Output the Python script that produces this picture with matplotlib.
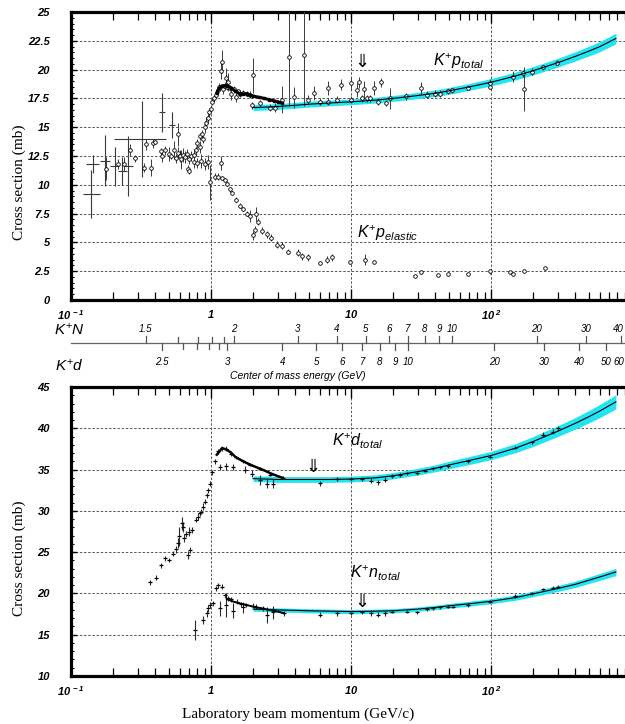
import numpy as np
import matplotlib
matplotlib.use('Agg')
import matplotlib.pyplot as plt

plt.rcParams['mathtext.fontset'] = 'custom'
plt.rcParams['mathtext.it'] = 'Liberation Sans:italic'
plt.rcParams['mathtext.rm'] = 'Liberation Sans'
plt.rcParams['mathtext.sf'] = 'Liberation Sans'
plt.rcParams['mathtext.bf'] = 'Liberation Sans:italic:bold'

# ---------------- DATA ----------------
# K+p total, low-energy set with momentum bins
kpA_p = [0.140, 0.144, 0.175, 0.206, 0.233, 0.256, 0.320, 0.447, 0.527]
kpA_s = [9.2, 11.8, 12.1, 11.6, 11.2, 11.6, 14.0, 16.3, 15.2]
kpA_ds = [2.1, 0.8, 2.2, 1.7, 1.2, 2.6, 3.3, 1.7, 1.1]
kpA_plo = [0.121, 0.129, 0.160, 0.190, 0.216, 0.240, 0.203, 0.425, 0.500]
kpA_phi = [0.161, 0.159, 0.190, 0.222, 0.250, 0.275, 0.477, 0.470, 0.555]

# K+p total, other measurements
kpB_p = [0.178, 0.215, 0.240, 0.265, 0.285, 0.330, 0.345, 0.370, 0.385, 0.398, 0.440,
         0.450, 0.470, 0.500, 0.520, 0.540, 0.560, 0.580, 0.580, 0.600, 0.610, 0.630,
         0.650, 0.670, 0.690, 0.700, 0.720, 0.750, 0.780, 0.800, 0.830, 0.840, 0.860,
         0.880, 0.900, 0.920, 0.950, 0.970, 1.000, 1.020, 1.050, 1.080, 1.120, 1.150,
         1.180, 1.200, 1.220, 1.250, 1.280, 1.300, 1.330, 1.360, 1.400, 1.450, 1.500,
         1.550, 1.620, 1.700, 1.800, 1.900, 1.980, 1.950, 2.240, 2.630, 2.850, 3.2,
         3.60, 3.90, 4.60, 4.90, 5.40, 6.00, 6.80, 6.80, 7.95, 8.50, 10.0, 10.0,
         11.0, 11.4, 12.0, 12.3, 13.1, 13.6, 14.7, 15.5, 16.5, 17.7, 18.9, 24.6,
         31.6, 34.9, 39.8, 43.3, 49.0, 52.4, 68.0, 98.0, 98.0, 143, 168, 171, 196,
         236, 297]
kpB_s = [11.4, 11.8, 11.8, 13.0, 12.3, 11.5, 13.5, 11.5, 13.6, 13.7, 12.9,
         12.5, 13.0, 12.7, 12.5, 13.0, 12.3, 14.4, 12.8, 12.5, 12.2, 12.6,
         12.4, 12.7, 11.4, 11.2, 12.5, 12.6, 13.0, 13.6, 13.3, 14.2, 14.4,
         14.0, 15.0, 15.4, 15.8, 16.3, 16.6, 17.2, 17.5, 17.8, 18.2, 18.5,
         19.9, 20.7, 18.3, 18.6, 19.3, 18.5, 18.9, 18.4, 17.9, 18.3, 17.6,
         18.1, 17.9, 18.0, 17.9, 17.8, 19.5, 16.9, 17.1, 16.7, 16.7, 17.4,
         21.1, 17.6, 21.3, 17.4, 18.0, 17.2, 18.4, 17.2, 17.4, 18.7, 18.8, 17.4,
         18.2, 18.9, 17.5, 18.3, 17.5, 17.5, 18.4, 17.2, 18.9, 17.1, 17.5, 17.7,
         18.4, 17.8, 17.9, 17.9, 18.1, 18.2, 18.4, 18.8, 18.5, 19.4, 19.7, 18.3, 19.8,
         20.2, 20.6]
kpB_ds = [1.0, 0.4, 0.6, 0.5, 0.3, 0.4, 0.5, 0.7, 0.4, 0.2, 0.3,
          0.5, 0.4, 0.6, 0.3, 0.8, 0.4, 1.0, 0.5, 0.5, 0.8, 0.6,
          0.5, 0.4, 0.3, 0.3, 0.4, 0.5, 0.4, 0.4, 0.5, 0.3, 0.4,
          0.4, 0.5, 0.5, 0.4, 0.4, 0.3, 0.3, 0.3, 0.3, 0.3, 0.3,
          0.7, 1.0, 0.4, 0.3, 0.8, 0.3, 0.8, 0.3, 0.5, 0.3, 0.4,
          0.2, 0.3, 0.2, 0.2, 0.3, 1.5, 0.3, 0.3, 0.3, 0.4, 1.2,
          4.3, 0.9, 4.5, 0.4, 0.6, 0.3, 0.6, 0.3, 0.3, 0.5, 0.6, 0.3,
          0.6, 0.5, 0.3, 0.7, 0.3, 0.3, 0.6, 0.3, 0.4, 0.3, 0.9, 0.3,
          0.5, 0.3, 0.3, 0.3, 0.2, 0.2, 0.2, 0.4, 0.2, 0.5, 0.3, 1.9, 0.3,
          0.2, 0.2]

# K+p total, densely measured region
kpD_p = [1.10, 1.15, 1.20, 1.30, 1.40, 1.50, 1.60, 1.70, 1.80, 1.90, 2.00, 2.20,
         2.40, 2.60, 2.80, 3.00, 3.20]
kpD_s = [18.0, 18.4, 18.6, 18.6, 18.4, 18.1, 17.9, 17.9, 17.9, 17.8, 17.7, 17.6,
         17.5, 17.4, 17.3, 17.2, 17.1]

# K+p elastic
kpe_p = [0.70, 0.75, 0.80, 0.85, 0.90, 0.95, 0.98, 1.07, 1.13, 1.17, 1.20, 1.25,
         1.30, 1.37, 1.42, 1.50, 1.60, 1.70, 1.80, 1.90, 2.00, 2.05, 2.11, 2.15,
         2.30, 2.50, 2.70, 2.95, 3.20, 3.54, 4.20, 4.50, 4.90, 6.00, 6.70, 7.30,
         9.80, 12.5, 14.5, 28.8, 31.6, 42.0, 49.5, 68.7, 98.0, 137, 144, 171, 242]
kpe_s = [12.2, 12.0, 11.9, 12.1, 11.8, 12.0, 10.2, 10.7, 10.7, 11.9, 10.6, 10.4,
         10.1, 9.6, 9.3, 8.7, 8.2, 7.9, 7.5, 7.3, 5.6, 6.1, 7.5, 6.8,
         6.0, 5.7, 5.4, 4.8, 4.7, 4.2, 4.1, 3.8, 3.7, 3.2, 3.5, 3.7,
         3.3, 3.5, 3.3, 2.1, 2.4, 2.2, 2.3, 2.3, 2.5, 2.4, 2.3, 2.5, 2.8]
kpe_ds = [0.4, 0.5, 0.4, 0.6, 0.5, 0.6, 1.5, 0.3, 0.3, 0.6, 0.2, 0.2,
          0.2, 0.2, 0.2, 0.2, 0.2, 0.2, 0.2, 0.5, 0.4, 0.3, 0.6, 0.3,
          0.3, 0.3, 0.3, 0.3, 0.3, 0.2, 0.3, 0.3, 0.3, 0.1, 0.3, 0.3,
          0.2, 0.5, 0.2, 0.1, 0.1, 0.1, 0.1, 0.1, 0.2, 0.1, 0.1, 0.1, 0.1]

# Fits and band half-widths
fit_p = [2.0, 2.5, 3, 4, 5, 7, 10, 15, 20, 30, 40, 50, 70, 100, 150, 200, 300, 400,
         500, 600, 780]
fit_kp = [16.7, 16.75, 16.8, 16.9, 17.0, 17.1, 17.2, 17.35, 17.5, 17.75, 17.95, 18.15,
          18.5, 18.9, 19.45, 19.9, 20.6, 21.15, 21.6, 22.0, 22.7]
band_kp = [0.25, 0.25, 0.25, 0.25, 0.25, 0.25, 0.25, 0.25, 0.25, 0.27, 0.28, 0.3,
           0.3, 0.32, 0.34, 0.36, 0.38, 0.4, 0.42, 0.44, 0.46]
fit_kd = [33.9, 33.85, 33.8, 33.8, 33.8, 33.8, 33.85, 34.0, 34.25, 34.75, 35.15, 35.55,
          36.1, 36.7, 37.6, 38.4, 39.65, 40.6, 41.4, 42.1, 43.2]
band_kd = [0.35, 0.35, 0.35, 0.35, 0.35, 0.35, 0.35, 0.37, 0.38, 0.4, 0.42, 0.45,
           0.48, 0.5, 0.55, 0.6, 0.65, 0.7, 0.75, 0.8, 0.85]
fit_kn = [18.1, 18.05, 18.0, 17.95, 17.9, 17.85, 17.8, 17.85, 17.9, 18.1, 18.3, 18.5,
          18.75, 19.05, 19.5, 19.95, 20.6, 21.1, 21.6, 22.0, 22.6]
band_kn = [0.25, 0.25, 0.25, 0.25, 0.25, 0.25, 0.25, 0.25, 0.25, 0.26, 0.27, 0.28,
           0.3, 0.3, 0.32, 0.34, 0.36, 0.38, 0.4, 0.42, 0.44]

# K+d total
kd_p = [0.366, 0.403, 0.439, 0.471, 0.501, 0.538, 0.562, 0.578, 0.594, 0.620, 0.635,
        0.644, 0.660, 0.687, 0.707, 0.700, 0.730, 0.780, 0.810, 0.836, 0.850, 0.880,
        0.907, 0.930, 0.956, 0.980, 1.01, 1.07, 1.13, 1.19, 1.29, 1.38, 1.51, 1.69,
        1.90, 2.24, 2.63, 3.25,
        1.16, 1.29, 1.44, 1.75, 1.95, 2.24, 2.50, 2.78,
        6.0, 7.9, 10.0, 11.9, 14.0, 15.6, 17.5, 19.5, 22.4, 25.0, 29.4, 33.7, 38.6,
        43.3, 49.6, 68.7, 98.0, 148, 195, 236, 279, 302]
kd_s = [21.35, 21.9, 23.4, 24.25, 24.05, 24.8, 25.35, 26.1, 26.9, 28.5, 28.1,
        26.7, 27.2, 24.65, 25.25, 27.5, 27.7, 28.9, 29.3, 29.7, 29.9, 30.5,
        31.1, 31.9, 32.5, 33.3, 34.7, 36.0, 37.2, 37.6, 37.5, 36.9, 36.5, 36.0,
        35.6, 35.1, 34.4, 34.0,
        35.3, 35.4, 35.3, 35.0, 34.5, 33.7, 33.3, 33.3,
        33.34, 33.86, 33.86, 33.86, 33.66, 33.45, 33.74, 34.22, 34.34, 34.55, 34.55,
        34.87, 35.15, 35.27, 35.43, 36.04, 36.56, 37.65, 38.3, 39.19, 39.59, 40.0]
kd_ds = [0.3, 0.3, 0.3, 0.3, 0.3, 0.3, 0.4, 0.6, 1.2, 0.8, 0.6,
         0.5, 0.4, 0.5, 0.4, 0.5, 0.4, 0.3, 0.4, 0.3, 0.3, 0.4,
         0.3, 0.3, 0.3, 0.3, 0.3, 0.3, 0.3, 0.3, 0.3, 0.3, 0.2, 0.2,
         0.2, 0.2, 0.2, 0.2,
         0.4, 0.4, 0.4, 0.4, 0.4, 0.6, 0.5, 0.5,
         0.3, 0.2, 0.2, 0.2, 0.3, 0.3, 0.3, 0.2, 0.2, 0.2, 0.2, 0.2, 0.2,
         0.2, 0.2, 0.2, 0.2, 0.2, 0.2, 0.3, 0.3, 0.3]
kdD_p = [1.10, 1.20, 1.30, 1.40, 1.50, 1.70, 1.90, 2.10, 2.40, 2.70, 3.00, 3.25]
kdD_s = [36.8, 37.6, 37.4, 37.0, 36.5, 36.0, 35.6, 35.3, 34.9, 34.5, 34.2, 34.0]

# K+n total
kn_p = [0.769, 0.880, 0.930, 0.950, 0.980, 1.04, 1.09, 1.13, 1.19, 1.25, 1.33,
        1.40, 1.53, 1.65, 1.79, 2.11, 2.00, 2.37, 3.30,
        1.16, 1.29, 1.43, 1.70, 2.50, 2.78,
        6.0, 7.9, 10.0, 11.9, 14.0, 15.6, 17.5, 19.5, 25.0, 29.4, 34.8, 38.6, 43.3,
        49.6, 53.5, 68.7, 98.0, 148, 195, 236, 279, 302]
kn_s = [15.57, 16.8, 17.6, 18.2, 18.6, 18.8, 20.6, 21.0, 20.8, 19.8, 19.4,
        19.3, 19.0, 18.7, 18.6, 18.4, 18.5, 18.2, 17.6,
        18.2, 18.6, 17.9, 18.3, 17.4, 17.7,
        17.4, 17.6, 17.6, 17.7, 17.6, 17.4, 17.6, 17.8, 17.8, 17.7, 18.1, 18.2, 18.3,
        18.4, 18.4, 18.6, 19.0, 19.7, 20.0, 20.5, 20.7, 20.8]
kn_ds = [1.2, 0.5, 0.4, 0.4, 0.4, 0.3, 0.3, 0.3, 0.3, 0.3, 0.3,
         0.3, 0.3, 0.3, 0.3, 0.3, 0.3, 0.3, 0.3,
         0.9, 1.5, 0.9, 0.7, 1.0, 0.8,
         0.3, 0.3, 0.2, 0.2, 0.3, 0.3, 0.3, 0.2, 0.2, 0.2, 0.2, 0.2, 0.2,
         0.2, 0.2, 0.2, 0.2, 0.2, 0.2, 0.2, 0.2, 0.2]
knD_p = [1.30, 1.45, 1.60, 1.80, 2.00, 2.30, 2.60, 3.00, 3.30]
knD_s = [19.3, 19.0, 18.8, 18.6, 18.4, 18.2, 18.0, 17.8, 17.6]

# Centre-of-mass energy scales (GeV)
cmN_major = [1.5, 2, 3, 4, 5, 6, 7, 8, 9, 10, 20, 30, 40]
cmN_labels = ['1.5', '2', '3', '4', '5', '6', '7', '8', '9', '10', '20', '30', '40']
cmN_minor = [1.6, 1.7, 1.8, 1.9]
cmd_major = [2.5, 3, 4, 5, 6, 7, 8, 9, 10, 20, 30, 40, 50, 60]
cmd_labels = ['2.5', '3', '4', '5', '6', '7', '8', '9', '10', '20', '30', '40', '50', '60']
cmd_minor = [2.6, 2.7, 2.8, 2.9]
M_K, M_N, M_D = 0.4937, 0.9383, 1.8756

top_yticks = [0, 2.5, 5, 7.5, 10, 12.5, 15, 17.5, 20, 22.5, 25]
top_ylabels = ['0', '2.5', '5', '7.5', '10', '12.5', '15', '17.5', '20', '22.5', '25']
bot_yticks = [10, 15, 20, 25, 30, 35, 40, 45]
xticks = [0.1, 1, 10, 100]
xlabels = [r'$\mathbf{10^{\ -1}}$', r'$\mathbf{1}$', r'$\mathbf{10}$', r'$\mathbf{10^{\ 2}}$']

# ---------------- FIGURE ----------------
W, H = 625, 724
fig = plt.figure(figsize=(W / 100, H / 100), dpi=100)


def box(x0, y0, x1, y1):
    return [x0 / W, 1 - y1 / H, (x1 - x0) / W, (y1 - y0) / H]


def ft(x, y, s, **kw):
    return fig.text(x / W, 1 - y / H, s, **kw)


TICKFONT = dict(family='Liberation Sans', style='italic', weight='bold', size=8)
GRID = dict(color='#555555', lw=0.7, ls=(0, (2.5, 1.8)))
CYAN = '#22e4f2'


def style_axes(ax, ylim, yticks, ylabels, yminor):
    ax.set_xscale('log')
    ax.set_xlim(0.1, 1000)
    ax.set_ylim(*ylim)
    ax.set_xticks(xticks)
    ax.set_xticklabels(xlabels, fontsize=8)
    ax.set_yticks(yticks)
    ax.set_yticklabels(ylabels, fontdict=TICKFONT)
    ax.yaxis.set_minor_locator(matplotlib.ticker.MultipleLocator(yminor))
    ax.xaxis.set_minor_locator(matplotlib.ticker.LogLocator(base=10, subs=np.arange(2, 10)))
    ax.xaxis.set_minor_formatter(matplotlib.ticker.NullFormatter())
    ax.tick_params(axis='x', which='major', direction='in', top=True, bottom=True,
                   length=8, width=1.0, pad=6)
    ax.tick_params(axis='x', which='minor', direction='in', top=True, bottom=True,
                   length=5.5, width=0.9)
    ax.tick_params(axis='y', which='major', direction='in', left=True, right=False,
                   length=4, width=1.0, pad=15)
    ax.tick_params(axis='y', which='minor', direction='in', left=True, right=False,
                   length=2.2, width=0.8)
    for s in ['left', 'top', 'bottom']:
        ax.spines[s].set_linewidth(2.3)
    ax.spines['right'].set_visible(False)
    for y in yticks[1:-1]:
        ax.axhline(y, zorder=0, **GRID)
    for x in xticks[1:]:
        ax.axvline(x, zorder=0, **GRID)


def err_pts(ax, p, s, ds, open_marker=True, **kw):
    if open_marker:
        ax.errorbar(p, s, yerr=ds, fmt='o', ms=2.6, mfc='white', mec='black', mew=0.6,
                    ecolor='#3a3a3a', elinewidth=0.7, capsize=0, zorder=3, **kw)
    else:
        ax.errorbar(p, s, yerr=ds, fmt='_', ms=3.0, mec='black', mew=0.9,
                    ecolor='#2a2a2a', elinewidth=0.8, capsize=0, zorder=3, **kw)


# ---- Top panel ----
ax1 = fig.add_axes(box(71, 12, 631, 300))
style_axes(ax1, (0, 25), top_yticks, top_ylabels, 0.5)

fp = np.array(fit_p)
ax1.fill_between(fp, np.array(fit_kp) - band_kp, np.array(fit_kp) + band_kp,
                 color=CYAN, lw=0, zorder=1)
ax1.plot(fp, fit_kp, color='black', lw=0.8, zorder=4)

pA = np.array(kpA_p)
ax1.errorbar(kpA_p, kpA_s, yerr=kpA_ds, xerr=[pA - np.array(kpA_plo), np.array(kpA_phi) - pA],
             fmt='none', ecolor='#3a3a3a', elinewidth=0.8, capsize=0, zorder=3)
err_pts(ax1, kpB_p, kpB_s, kpB_ds)
err_pts(ax1, kpe_p, kpe_s, kpe_ds)
ax1.plot(kpD_p, kpD_s, color='black', lw=2.2, marker='s', ms=2, zorder=4)

# ---- Bottom panel ----
ax2 = fig.add_axes(box(71, 387, 631, 676))
style_axes(ax2, (10, 45), bot_yticks, [str(v) for v in bot_yticks], 1)
ax2.fill_between(fp, np.array(fit_kd) - band_kd, np.array(fit_kd) + band_kd,
                 color=CYAN, lw=0, zorder=1)
ax2.plot(fp, fit_kd, color='black', lw=0.8, zorder=4)
ax2.fill_between(fp, np.array(fit_kn) - band_kn, np.array(fit_kn) + band_kn,
                 color=CYAN, lw=0, zorder=1)
ax2.plot(fp, fit_kn, color='black', lw=0.8, zorder=4)
err_pts(ax2, kd_p, kd_s, kd_ds, open_marker=False)
err_pts(ax2, kn_p, kn_s, kn_ds, open_marker=False)
ax2.plot(kdD_p, kdD_s, color='black', lw=1.8, zorder=4)
ax2.plot(knD_p, knD_s, color='black', lw=1.4, zorder=4)

# ---- Centre-of-mass energy scales ----
axm = fig.add_axes(box(71, 320, 631, 385))
axm.set_xscale('log')
axm.set_xlim(0.1, 1000)
axm.set_ylim(385, 320)
axm.axis('off')


def plab(w, m_t):
    e = (w * w - M_K ** 2 - m_t ** 2) / (2 * m_t)
    return np.sqrt(e * e - M_K ** 2)


def scale_label(x, y, lab):
    # keep labels fully inside the picture near the right edge
    px = axm.transData.transform((x, y))[0]
    if px > W - 9:
        ft(W - 1, y, lab, ha='right', va='center', fontsize=7, style='italic',
           family='Liberation Sans')
    else:
        axm.text(x, y, lab, ha='center', va='center', fontsize=7, style='italic',
                 family='Liberation Sans')


axm.plot([0.1, 1000], [343, 343], color='#666666', lw=0.9, clip_on=False)
tick_col = '#555555'
for w, lab in zip(cmN_major, cmN_labels):
    x = plab(w, M_N)
    axm.plot([x, x], [343, 336.5], color=tick_col, lw=0.9)
    scale_label(x, 329, lab)
for w in cmN_minor:
    x = plab(w, M_N)
    axm.plot([x, x], [343, 337.5], color=tick_col, lw=0.9)
for w, lab in zip(cmd_major, cmd_labels):
    x = plab(w, M_D)
    axm.plot([x, x], [343, 350], color=tick_col, lw=0.9, clip_on=False)
    scale_label(x, 362, lab)
for w in cmd_minor:
    x = plab(w, M_D)
    axm.plot([x, x], [343, 349.5], color=tick_col, lw=0.9)

ft(69, 330, r'$K^{+}N$', fontsize=11, ha='center', va='center')
ft(69, 366, r'$K^{+}d$', fontsize=11, ha='center', va='center')
ft(298, 376, 'Center of mass energy (GeV)', fontsize=7.5, style='italic',
   family='Liberation Sans', ha='center', va='center')

# ---- Labels and annotations ----
for yc in (182, 558):
    ft(19, yc, 'Cross section (mb)', rotation=90, family='Liberation Serif',
       fontsize=11, ha='center', va='center')
ft(298, 714, 'Laboratory beam momentum (GeV/c)', family='Liberation Serif',
   fontsize=11, ha='center', va='center')

ft(433, 66, r'$K^{+}p_{total}$', fontsize=11.5, ha='left', va='baseline')
ft(357, 238, r'$K^{+}p_{elastic}$', fontsize=11.5, ha='left', va='baseline')
ft(332, 446, r'$K^{+}d_{total}$', fontsize=11.5, ha='left', va='baseline')
ft(350, 578, r'$K^{+}n_{total}$', fontsize=11.5, ha='left', va='baseline')

for (x, y) in [(362, 62), (313, 467), (362, 602)]:
    ft(x, y, '\u21d3', fontsize=13, family='DejaVu Sans', ha='center', va='center')

fig.savefig('out.png', dpi=100)
